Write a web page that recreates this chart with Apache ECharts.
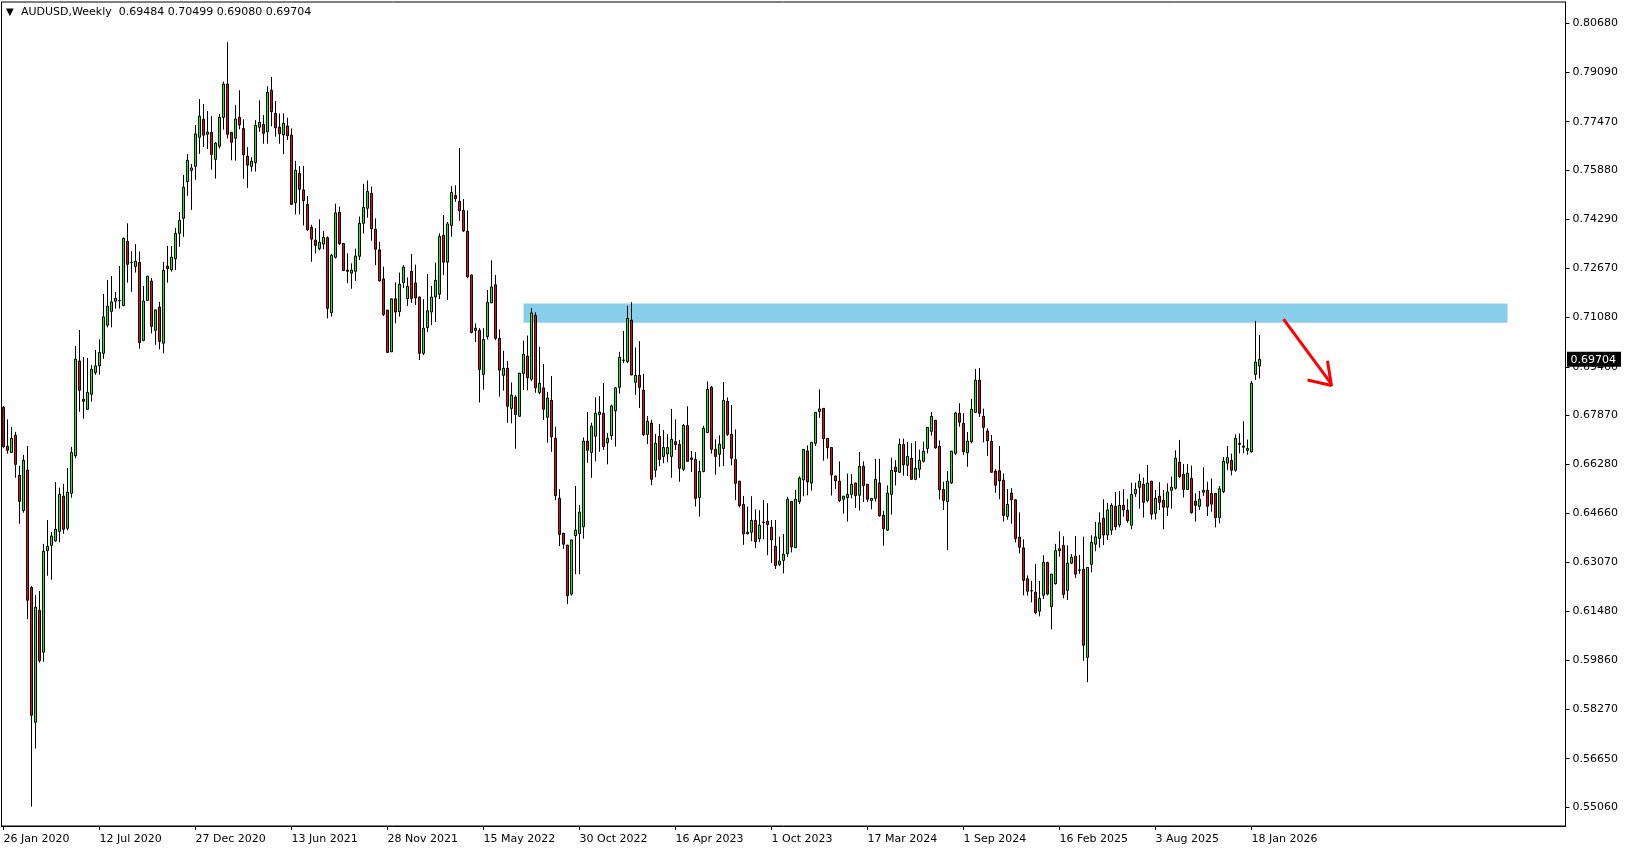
<!DOCTYPE html>
<html><head><meta charset="utf-8">
<script src="https://cdn.jsdelivr.net/npm/echarts@6/dist/echarts.min.js"></script>
<style>html,body{margin:0;padding:0;background:#fff;}#c{width:1629px;height:850px;}</style>
</head><body><div id="c"></div>
<script>
const symbolName = 'AUDUSD,Weekly';
const headerValues = [0.69484, 0.70499, 0.69080, 0.69704];
const startYear = 2020, startMonth = 0, startDay = 26;
const totalSlots = 391;
const xTickEvery = 24;
const xTickLabels = ['26 Jan 2020','12 Jul 2020','27 Dec 2020','13 Jun 2021','28 Nov 2021','15 May 2022','30 Oct 2022','16 Apr 2023','1 Oct 2023','17 Mar 2024','1 Sep 2024','16 Feb 2025','3 Aug 2025','18 Jan 2026'];
const yTickValues = [0.80680,0.79090,0.77470,0.75880,0.74290,0.72670,0.71080,0.69460,0.67870,0.66280,0.64660,0.63070,0.61480,0.59860,0.58270,0.56650,0.55060];
const yMin = 0.54449, yMax = 0.81383;

const opens = [
.6813,.6686,.6666,.6722,.6591,.6476,.6608,.6225,.5784,.6150,
.6013,.6345,.6362,.6377,.6408,.6523,.6418,.6532,.6655,.6965,
.6840,.6807,.6856,.6927,.6949,.6990,.7082,.7127,.7160,.7163,
.7146,.7356,.7287,.7274,.7287,.7032,.7163,.7226,.7065,.7141,
.7023,.7275,.7263,.7299,.7382,.7431,.7551,.7588,.7601,.7696,
.7755,.7706,.7712,.7624,.7667,.7761,.7870,.7712,.7693,.7761,
.7725,.7634,.7601,.7613,.7729,.7738,.7714,.7850,.7774,.7729,
.7704,.7733,.7703,.7482,.7578,.7524,.7477,.7402,.7360,.7332,
.7347,.7368,.7123,.7304,.7451,.7349,.7262,.7252,.7258,.7307,
.7415,.7464,.7513,.7396,.7328,.7233,.7131,.6995,.7168,.7126,
.7221,.7169,.7258,.7220,.7174,.6990,.7074,.7125,.7174,.7183,
.7376,.7288,.7408,.7506,.7487,.7457,.7389,.7246,.7065,.7065,
.6921,.7045,.7155,.7214,.7039,.6918,.6941,.6810,.6847,.6784,
.6924,.6981,.6905,.7114,.6862,.6877,.6781,.6836,.6712,.6516,
.6402,.6363,.6203,.6394,.6401,.6423,.6703,.6666,.6719,.6790,
.6794,.6698,.6721,.6802,.6879,.6968,.6963,.7098,.6895,.6918,
.6869,.6725,.6762,.6608,.6718,.6653,.6661,.6653,.6701,.6692,
.6611,.6754,.6648,.6643,.6519,.6604,.6731,.6879,.6676,.6660,
.6679,.6833,.6725,.6643,.6572,.6496,.6400,.6405,.6444,.6384,
.6438,.6441,.6421,.6359,.6300,.6313,.6335,.6506,.6355,.6505,
.6576,.6671,.6566,.6696,.6800,.6810,.6712,.6682,.6589,.6572,
.6513,.6518,.6529,.6566,.6526,.6621,.6562,.6509,.6516,.6566,
.6461,.6412,.6529,.6618,.6601,.6692,.6624,.6647,.6578,.6611,
.6637,.6679,.6735,.6771,.6686,.6545,.6505,.6566,.6663,.6794,
.6761,.6665,.6701,.6797,.6902,.6784,.6736,.6702,.6605,.6606,
.6575,.6457,.6533,.6511,.6389,.6354,.6253,.6214,.6209,.6147,
.6199,.6306,.6162,.6237,.6345,.6362,.6215,.6304,.6327,.6282,
.6284,.5996,.6300,.6366,.6385,.6451,.6396,.6412,.6490,.6429,
.6493,.6477,.6428,.6531,.6552,.6562,.6509,.6572,.6467,.6523,
.6509,.6487,.6542,.6549,.6634,.6595,.6545,.6581,.6507,.6490,
.6536,.6542,.6532,.6532,.6453,.6538,.6631,.6640,.6608,.6692,
.6683,.6673,.6668,.6921,.69484];
const highs = [
.6818,.6774,.6749,.6733,.6622,.6658,.6687,.6229,.6200,.6213,
.6367,.6445,.6406,.6569,.6551,.6563,.6615,.6684,.7014,.7066,
.6978,.6975,.6952,.7001,.7036,.7184,.7230,.7243,.7190,.7275,
.7368,.7415,.7324,.7347,.7323,.7210,.7243,.7236,.7133,.7158,
.7289,.7341,.7341,.7400,.7452,.7573,.7641,.7609,.7736,.7821,
.7805,.7782,.7766,.7681,.7772,.7878,.8007,.7714,.7802,.7850,
.7755,.7664,.7631,.7752,.7817,.7769,.7863,.7893,.7815,.7774,
.7774,.7760,.7725,.7619,.7602,.7603,.7504,.7410,.7399,.7428,
.7390,.7372,.7315,.7479,.7469,.7350,.7317,.7284,.7332,.7437,
.7544,.7555,.7535,.7431,.7354,.7273,.7132,.7169,.7222,.7254,
.7278,.7238,.7315,.7280,.7175,.7167,.7249,.7210,.7286,.7382,
.7442,.7419,.7537,.7539,.7661,.7494,.7457,.7247,.7088,.7072,
.7072,.7197,.7294,.7246,.7068,.6998,.6965,.6895,.6853,.6926,
.7031,.7048,.7138,.7124,.7011,.6955,.6864,.6916,.6750,.6546,
.6403,.6364,.6381,.6556,.6494,.6715,.6798,.6763,.6846,.6850,
.6893,.6729,.6822,.6879,.6995,.7063,.7145,.7157,.7009,.7030,
.6923,.6785,.6773,.6726,.6759,.6739,.6726,.6808,.6774,.6707,
.6759,.6817,.6671,.6667,.6639,.6753,.6898,.6883,.6709,.6722,
.6896,.6846,.6821,.6741,.6573,.6524,.6489,.6523,.6480,.6477,
.6510,.6500,.6445,.6445,.6391,.6399,.6521,.6507,.6543,.6588,
.6677,.6689,.6700,.6798,.6872,.6811,.6713,.6683,.6590,.6637,
.6524,.6597,.6595,.6567,.6667,.6637,.6563,.6517,.6645,.6645,
.6475,.6558,.6649,.6641,.6711,.6711,.6700,.6696,.6703,.6675,
.6701,.6749,.6798,.6772,.6705,.6570,.6605,.6671,.6799,.6827,
.6794,.6733,.6841,.6939,.6942,.6809,.6745,.6723,.6611,.6687,
.6597,.6546,.6549,.6513,.6470,.6382,.6264,.6246,.6302,.6246,
.6330,.6309,.6269,.6367,.6408,.6392,.6362,.6334,.6393,.6331,
.6391,.6291,.6395,.6439,.6470,.6513,.6501,.6500,.6537,.6540,
.6546,.6514,.6567,.6567,.6596,.6584,.6625,.6573,.6543,.6569,
.6543,.6565,.6587,.6673,.6707,.6628,.6628,.6623,.6532,.6540,
.6618,.6570,.6581,.6533,.6556,.6651,.6687,.6662,.6725,.6728,
.6768,.6708,.6900,.7096,.70499];
const lows = [
.6680,.6662,.6664,.6583,.6433,.6469,.6121,.5508,.5698,.5979,
.5982,.6263,.6250,.6374,.6372,.6400,.6411,.6518,.6647,.6799,
.6776,.6805,.6832,.6920,.6920,.6972,.7075,.7075,.7136,.7136,
.7144,.7221,.7191,.7254,.7005,.7029,.7161,.7055,.7018,.7003,
.6990,.7221,.7257,.7262,.7338,.7371,.7505,.7459,.7557,.7642,
.7665,.7658,.7590,.7561,.7659,.7721,.7692,.7621,.7620,.7722,
.7560,.7531,.7584,.7584,.7714,.7675,.7675,.7732,.7698,.7675,
.7641,.7687,.7475,.7444,.7444,.7408,.7390,.7289,.7316,.7327,
.7330,.7104,.7110,.7300,.7344,.7260,.7219,.7201,.7227,.7295,
.7382,.7433,.7358,.7278,.7224,.7112,.6992,.6994,.7088,.7110,
.7203,.7145,.7155,.7148,.6968,.6984,.7060,.7082,.7092,.7167,
.7246,.7164,.7371,.7485,.7423,.7387,.7235,.7055,.7027,.6829,
.6871,.7035,.7154,.7033,.6848,.6868,.6763,.6761,.6678,.6783,
.6870,.6869,.6899,.6861,.6856,.6772,.6698,.6668,.6510,.6360,
.6351,.6170,.6198,.6268,.6268,.6384,.6632,.6583,.6637,.6668,
.6674,.6627,.6707,.6685,.6858,.6958,.6958,.6919,.6854,.6811,
.6720,.6693,.6559,.6585,.6621,.6631,.6634,.6583,.6674,.6570,
.6605,.6636,.6602,.6489,.6456,.6601,.6729,.6662,.6593,.6619,
.6621,.6720,.6624,.6510,.6486,.6364,.6398,.6376,.6353,.6373,
.6382,.6330,.6305,.6285,.6294,.6271,.6324,.6339,.6353,.6497,
.6523,.6526,.6541,.6687,.6779,.6639,.6646,.6525,.6547,.6504,
.6466,.6440,.6516,.6484,.6476,.6504,.6504,.6480,.6505,.6456,
.6361,.6409,.6463,.6558,.6599,.6590,.6589,.6577,.6575,.6583,
.6633,.6663,.6721,.6678,.6512,.6478,.6347,.6563,.6658,.6750,
.6658,.6619,.6696,.6796,.6782,.6699,.6655,.6600,.6534,.6513,
.6440,.6446,.6433,.6372,.6336,.6199,.6198,.6176,.6137,.6130,
.6187,.6199,.6088,.6234,.6325,.6189,.6184,.6301,.6256,.6269,
.5985,.5915,.6274,.6343,.6355,.6363,.6380,.6396,.6412,.6421,
.6456,.6436,.6415,.6521,.6482,.6453,.6503,.6447,.6447,.6478,
.6415,.6458,.6482,.6545,.6582,.6519,.6544,.6466,.6440,.6478,
.6524,.6458,.6472,.6421,.6434,.6533,.6608,.6591,.6603,.6663,
.6663,.6659,.6665,.6903,.69080];
const closes = [
.6685,.6673,.6712,.6627,.6506,.6640,.6183,.5807,.6160,.5985,
.6343,.6359,.6393,.6415,.6529,.6415,.6536,.6666,.6971,.6869,
.6833,.6862,.6938,.6949,.6993,.7109,.7144,.7158,.7170,.7162,
.7366,.7281,.7286,.7291,.7025,.7161,.7242,.7078,.7132,.7029,
.7261,.7267,.7304,.7382,.7425,.7533,.7621,.7596,.7707,.7765,
.7703,.7713,.7640,.7677,.7761,.7870,.7706,.7680,.7756,.7737,
.7639,.7605,.7618,.7735,.7745,.7709,.7843,.7780,.7727,.7708,
.7742,.7701,.7477,.7588,.7526,.7489,.7394,.7363,.7343,.7353,
.7369,.7137,.7310,.7449,.7348,.7261,.7258,.7262,.7308,.7415,
.7467,.7519,.7397,.7330,.7227,.7117,.6993,.7168,.7125,.7216,
.7272,.7209,.7169,.7171,.6990,.7072,.7129,.7174,.7229,.7372,
.7288,.7413,.7516,.7496,.7456,.7390,.7240,.7058,.7072,.6937,
.7035,.7157,.7207,.7039,.6935,.6941,.6817,.6853,.6790,.6925,
.6987,.6910,.7122,.6877,.6892,.6807,.6844,.6717,.6525,.6398,
.6366,.6198,.6380,.6412,.6471,.6703,.6673,.6752,.6794,.6798,
.6685,.6712,.6818,.6877,.6977,.6967,.7104,.6919,.6918,.6879,
.6724,.6768,.6578,.6696,.6643,.6682,.6682,.6709,.6692,.6614,
.6754,.6637,.6643,.6516,.6604,.6745,.6872,.6676,.6653,.6693,
.6836,.6725,.6647,.6565,.6492,.6400,.6405,.6444,.6374,.6428,
.6437,.6430,.6380,.6296,.6311,.6333,.6513,.6357,.6513,.6582,
.6676,.6570,.6699,.6797,.6808,.6711,.6681,.6593,.6573,.6508,
.6523,.6529,.6562,.6525,.6621,.6558,.6513,.6516,.6578,.6459,
.6417,.6533,.6608,.6603,.6692,.6626,.6653,.6578,.6614,.6640,
.6670,.6748,.6784,.6681,.6544,.6509,.6572,.6670,.6795,.6765,
.6668,.6703,.6807,.6902,.6794,.6748,.6704,.6601,.6559,.6573,
.6460,.6496,.6511,.6385,.6356,.6248,.6212,.6213,.6142,.6189,
.6307,.6203,.6268,.6345,.6351,.6202,.6304,.6323,.6268,.6281,
.6036,.6290,.6372,.6390,.6436,.6396,.6478,.6493,.6423,.6493,
.6478,.6443,.6529,.6545,.6572,.6503,.6566,.6464,.6516,.6503,
.6487,.6537,.6552,.6647,.6587,.6545,.6598,.6469,.6493,.6513,
.6542,.6490,.6497,.6453,.6547,.6637,.6649,.6608,.6712,.6696,
.6687,.6679,.6892,.6961,.69704];

// resistance zone (candle index range, price range)
const zoneStart = 130, zoneEnd = 376, zoneTop = 0.7153, zoneBottom = 0.7090;
// hand-drawn arrow segments: [[index, price], [index, price]]
const arrowSegments = [
  [[320, 0.7102], [332, 0.6889]],
  [[326, 0.6903], [332, 0.6885]],
  [[331, 0.6966], [332, 0.6882]]
];

const months = ['Jan','Feb','Mar','Apr','May','Jun','Jul','Aug','Sep','Oct','Nov','Dec'];
const cats = [];
const t0 = Date.UTC(startYear, startMonth, startDay);
for (let k = 0; k < totalSlots; k++) {
  const d = new Date(t0 + k * 7 * 86400000);
  cats.push(d.getUTCDate() + ' ' + months[d.getUTCMonth()] + ' ' + d.getUTCFullYear());
}
const lastTickIndex = (xTickLabels.length - 1) * xTickEvery;
const showTick = (i) => i % xTickEvery === 0 && i <= lastTickIndex;

const candleData = opens.map((o, i) => [o, closes[i], lows[i], highs[i]]);
const FONT = '"DejaVu Sans", Verdana, sans-serif';
const lastPrice = headerValues[3];

const chart = echarts.init(document.getElementById('c'), null, {renderer: 'canvas'});
const headerGraphics = [
  {type: 'text', x: 6, y: 12.5, style: {text: '▼', font: '10px ' + FONT, fill: '#000', verticalAlign: 'middle'}},
  {type: 'text', x: 21, y: 12.5, style: {text: symbolName + '  ' + headerValues.map(v => v.toFixed(5)).join(' '), font: '11px ' + FONT, fill: '#000', verticalAlign: 'middle'}}
];
chart.setOption({
  animation: false,
  backgroundColor: '#ffffff',
  grid: {left: 1.5, right: 63.5, top: 2, bottom: 24, show: true, borderColor: '#000', borderWidth: 1, backgroundColor: 'transparent'},
  xAxis: {
    type: 'category', data: cats, boundaryGap: true,
    axisLine: {show: true, lineStyle: {color: '#000', width: 1}},
    axisTick: {show: true, alignWithLabel: true, interval: (i) => showTick(i), length: 4, lineStyle: {color: '#000'}},
    axisLabel: {interval: (i) => showTick(i), formatter: (v, i) => xTickLabels[i / xTickEvery] || '', align: 'left', margin: 8,
      color: '#000', fontFamily: FONT, fontSize: 11},
    splitLine: {show: false}
  },
  yAxis: {
    type: 'value', position: 'right', min: yMin, max: yMax,
    axisLine: {show: true, lineStyle: {color: '#000', width: 1}},
    axisTick: {show: true, customValues: yTickValues, length: 4, lineStyle: {color: '#000'}},
    axisLabel: {customValues: yTickValues, formatter: (v) => v.toFixed(5), margin: 7, color: '#000', fontFamily: FONT, fontSize: 11},
    splitLine: {show: false}
  },
  graphic: headerGraphics,
  series: [
    {
      type: 'line', data: [], z: 1, silent: true,
      markArea: {silent: true, itemStyle: {color: '#87CEEB', opacity: 1},
        data: [[{xAxis: cats[zoneStart], yAxis: zoneTop}, {xAxis: cats[zoneEnd], yAxis: zoneBottom}]]}
    },
    {
      type: 'candlestick', data: candleData, barWidth: 2, z: 3, silent: true,
      itemStyle: {color: '#00ff00', color0: '#ff0000', borderColor: '#000', borderColor0: '#000', borderColorDoji: '#000', borderWidth: 1}
    },
    {
      type: 'line', data: [], z: 4, silent: true,
      markLine: {
        silent: true, symbol: ['none', 'none'], animation: false,
        lineStyle: {color: '#ff0000', width: 3, type: 'solid'},
        label: {show: false},
        data: arrowSegments.map(s => [{coord: [cats[s[0][0]], s[0][1]]}, {coord: [cats[s[1][0]], s[1][1]]}])
      }
    }
  ]
});

// current price tag on the price scale, positioned through the y axis scale
const py = chart.convertToPixel({yAxisIndex: 0}, lastPrice);
const axisX = chart.convertToPixel({xAxisIndex: 0}, cats[totalSlots - 1]) + 2;
chart.setOption({
  graphic: headerGraphics.concat([
    {type: 'rect', z: 100, shape: {x: axisX + 1.5, y: py - 7.5, width: 54, height: 15}, style: {fill: '#000'}},
    {type: 'text', z: 101, x: axisX + 5, y: py + 0.5, style: {text: lastPrice.toFixed(5), font: '11px ' + FONT, fill: '#fff', verticalAlign: 'middle'}}
  ])
});
</script></body></html>
